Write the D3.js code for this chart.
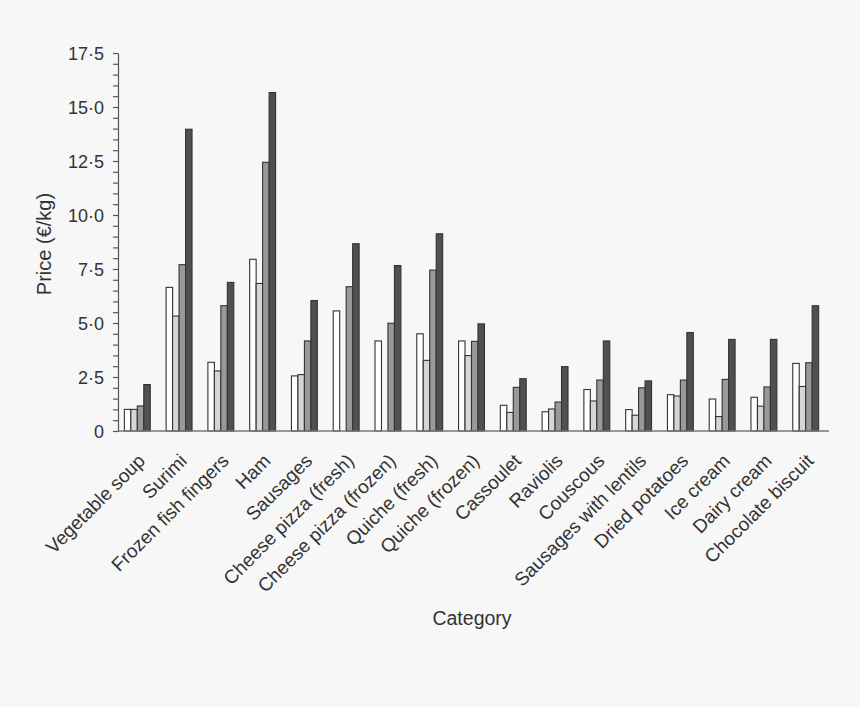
<!DOCTYPE html>
<html>
<head>
<meta charset="utf-8">
<script src="https://cdn.jsdelivr.net/npm/d3@7"></script>
<style>
  html, body { margin: 0; padding: 0; background: #f7f7f7; }
  text { font-family: "Liberation Sans", Arial, sans-serif; fill: #333; }
</style>
</head>
<body>
<div id="chart"></div>
<script>
// Categories and the four price series (€/kg); null = no bar
const categories = [
    "Vegetable soup", "Surimi", "Frozen fish fingers", "Ham", "Sausages",
    "Cheese pizza (fresh)", "Cheese pizza (frozen)", "Quiche (fresh)", "Quiche (frozen)",
    "Cassoulet", "Raviolis", "Couscous", "Sausages with lentils", "Dried potatoes",
    "Ice cream", "Dairy cream", "Chocolate biscuit"
];
const series1 = [1.0, 6.65, 3.18, 7.95, 2.55, 5.56, 4.17, 4.5, 4.17, 1.19, 0.89, 1.92, 0.99, 1.68, 1.48, 1.56, 3.13];
const series2 = [1.0, 5.32, 2.78, 6.83, 2.61, null, null, 3.27, 3.49, 0.86, 1.02, 1.39, 0.73, 1.62, 0.67, 1.15, 2.06];
const series3 = [1.16, 7.7, 5.8, 12.44, 4.17, 6.68, 4.99, 7.45, 4.15, 2.02, 1.34, 2.36, 2.0, 2.36, 2.39, 2.04, 3.16];
const series4 = [2.15, 13.97, 6.88, 15.67, 6.04, 8.67, 7.66, 9.13, 4.96, 2.42, 2.98, 4.17, 2.32, 4.56, 4.24, 4.24, 5.8];
const seriesFills = ["#ffffff", "#d6d6d6", "#999999", "#505050"];
const yTicks = [0, 2.5, 5, 7.5, 10, 12.5, 15, 17.5];

const width = 860;
const height = 707;
const margin = { left: 118, right: 31, top: 53, bottom: 276 };

const svg = d3.select("#chart")
    .append("svg")
    .attr("width", width)
    .attr("height", height);

const x0 = d3.scaleBand()
    .domain(categories)
    .range([margin.left - 2, width - margin.right - 2])
    .paddingInner(0.38)
    .paddingOuter(0.2);

const x1 = d3.scaleBand()
    .domain([0, 1, 2, 3])
    .range([0, x0.bandwidth()]);

const y = d3.scaleLinear()
    .domain([0, 17.5])
    .range([height - margin.bottom, margin.top]);

// Bars
const allSeries = [series1, series2, series3, series4];
const groups = svg.selectAll("g.group")
    .data(categories)
    .enter()
    .append("g")
    .attr("class", "group")
    .attr("transform", d => `translate(${x0(d)},0)`);

groups.selectAll("rect")
    .data((d, i) => allSeries.map((s, k) => ({ k: k, v: s[i] })).filter(e => e.v != null))
    .enter()
    .append("rect")
    .attr("x", d => x1(d.k))
    .attr("y", d => y(d.v))
    .attr("width", x1.bandwidth())
    .attr("height", d => y(0) - y(d.v))
    .attr("fill", d => seriesFills[d.k])
    .attr("stroke", "#333")
    .attr("stroke-width", 1.1);

// X axis baseline
svg.append("line")
    .attr("x1", margin.left)
    .attr("x2", width - margin.right)
    .attr("y1", y(0))
    .attr("y2", y(0))
    .attr("stroke", "#777")
    .attr("stroke-width", 1.5);

// Y axis with minor ticks
const yAxis = svg.append("g")
    .attr("transform", `translate(${margin.left},0)`);

yAxis.call(d3.axisLeft(y)
    .tickValues(d3.range(0, 17.51, 0.5))
    .tickSize(5)
    .tickSizeOuter(0)
    .tickFormat(""));

yAxis.selectAll("path, line").attr("stroke", "#555").attr("stroke-width", 1.2);

yAxis.selectAll("text.ylab")
    .data(yTicks)
    .enter()
    .append("text")
    .attr("class", "ylab")
    .attr("x", -14)
    .attr("y", d => y(d) + 1)
    .attr("dy", "0.35em")
    .attr("text-anchor", "end")
    .attr("font-size", "18px")
    .text(d => d === 0 ? "0" : d.toFixed(1).replace(".", "\u00b7"));

// Category labels
svg.selectAll("text.xlab")
    .data(categories)
    .enter()
    .append("text")
    .attr("class", "xlab")
    .attr("transform", d => `translate(${x0(d) + x0.bandwidth() / 2 + 9},${y(0) + 31}) rotate(-45)`)
    .attr("text-anchor", "end")
    .attr("font-size", "19px")
    .text(d => d);

// Axis titles
svg.append("text")
    .attr("x", 472)
    .attr("y", 625)
    .attr("text-anchor", "middle")
    .attr("font-size", "19.5px")
    .text("Category");

svg.append("text")
    .attr("transform", `translate(51,${(margin.top + y(0)) / 2 + 2}) rotate(-90)`)
    .attr("text-anchor", "middle")
    .attr("font-size", "20px")
    .text("Price (€/kg)");
</script>
</body>
</html>
